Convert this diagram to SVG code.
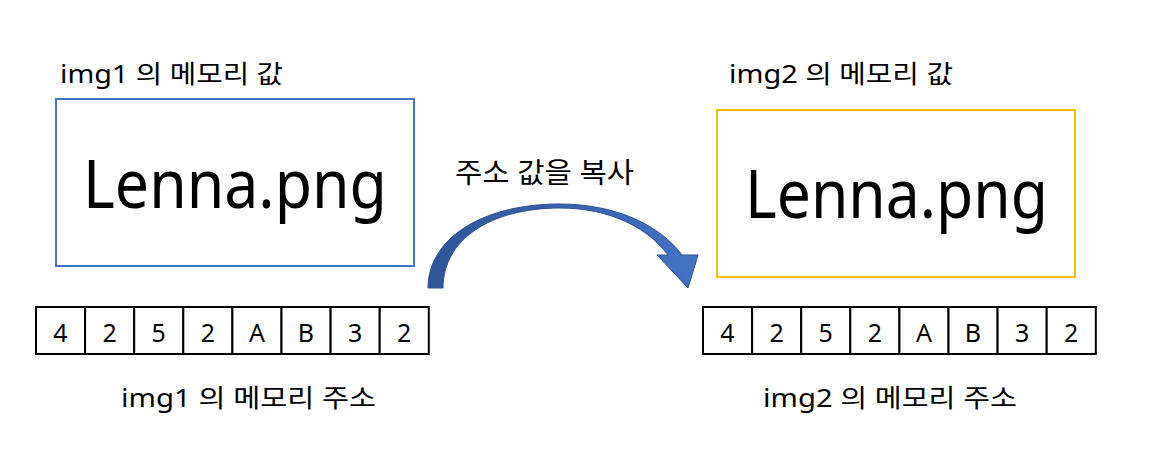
<svg xmlns="http://www.w3.org/2000/svg" width="1160" height="469" viewBox="0 0 1160 469">
<style>
.t{font-family:"Noto Sans","Noto Sans CJK KR",sans-serif;fill:#000}
.lbl{font-size:25px}
.big{font-size:68px}
.cell{fill:#fff;stroke:#000;stroke-width:2}
.d{font-size:25px;text-anchor:middle}
</style>
<defs>
<linearGradient id="ag" x1="0" y1="0" x2="1" y2="0">
<stop offset="0" stop-color="#2F5597"/>
<stop offset="1" stop-color="#4472C4"/>
</linearGradient>
</defs>
<rect width="1160" height="469" fill="#fff"/>
<g id="img1-value">
<text class="t lbl" x="60" y="83" textLength="223" lengthAdjust="spacingAndGlyphs">img1 의 메모리 값</text>
<rect x="56" y="99" width="358" height="167" fill="#fff" stroke="#4472C4" stroke-width="2"/>
<text class="t big" x="83" y="208" textLength="304" lengthAdjust="spacingAndGlyphs">Lenna.png</text>
</g>
<g id="img2-value">
<text class="t lbl" x="729" y="83" textLength="224" lengthAdjust="spacingAndGlyphs">img2 의 메모리 값</text>
<rect x="717" y="110" width="358" height="167" fill="#fff" stroke="#FFC000" stroke-width="2"/>
<text class="t big" x="745" y="218" textLength="303" lengthAdjust="spacingAndGlyphs">Lenna.png</text>
</g>
<g id="img1-address">
<rect class="cell" x="36" y="307" width="49.1" height="47"/>
<rect class="cell" x="85.1" y="307" width="49.1" height="47"/>
<rect class="cell" x="134.2" y="307" width="49.1" height="47"/>
<rect class="cell" x="183.3" y="307" width="49.1" height="47"/>
<rect class="cell" x="232.4" y="307" width="49.1" height="47"/>
<rect class="cell" x="281.5" y="307" width="49.1" height="47"/>
<rect class="cell" x="330.6" y="307" width="49.1" height="47"/>
<rect class="cell" x="379.7" y="307" width="49.1" height="47"/>
<text class="t d" x="60.5" y="342">4</text>
<text class="t d" x="109.6" y="342">2</text>
<text class="t d" x="158.7" y="342">5</text>
<text class="t d" x="207.8" y="342">2</text>
<text class="t d" x="256.9" y="342">A</text>
<text class="t d" x="306" y="342">B</text>
<text class="t d" x="355.1" y="342">3</text>
<text class="t d" x="404.2" y="342">2</text>
<text class="t lbl" x="121" y="407" textLength="255" lengthAdjust="spacingAndGlyphs">img1 의 메모리 주소</text>
</g>
<g id="img2-address">
<rect class="cell" x="703" y="307" width="49.1" height="47"/>
<rect class="cell" x="752.1" y="307" width="49.1" height="47"/>
<rect class="cell" x="801.2" y="307" width="49.1" height="47"/>
<rect class="cell" x="850.3" y="307" width="49.1" height="47"/>
<rect class="cell" x="899.4" y="307" width="49.1" height="47"/>
<rect class="cell" x="948.5" y="307" width="49.1" height="47"/>
<rect class="cell" x="997.6" y="307" width="49.1" height="47"/>
<rect class="cell" x="1046.7" y="307" width="49.1" height="47"/>
<text class="t d" x="727.5" y="342">4</text>
<text class="t d" x="776.6" y="342">2</text>
<text class="t d" x="825.7" y="342">5</text>
<text class="t d" x="874.8" y="342">2</text>
<text class="t d" x="923.9" y="342">A</text>
<text class="t d" x="973" y="342">B</text>
<text class="t d" x="1022.1" y="342">3</text>
<text class="t d" x="1071.2" y="342">2</text>
<text class="t lbl" x="763" y="407" textLength="254" lengthAdjust="spacingAndGlyphs">img2 의 메모리 주소</text>
</g>
<g id="connectors">
<path d="M428,288 C428,240 480,204 560,204 C615,204 660,225 682,255 L698,255 L688,288 L657,255 L668,255 C648,228 610,208 560,208 C490,208 443,240 443,288 Z" fill="url(#ag)" stroke="#2F528F" stroke-width="1"/>
<text class="t" x="455" y="183" font-size="28" textLength="179" lengthAdjust="spacingAndGlyphs">주소 값을 복사</text>
</g>
</svg>
